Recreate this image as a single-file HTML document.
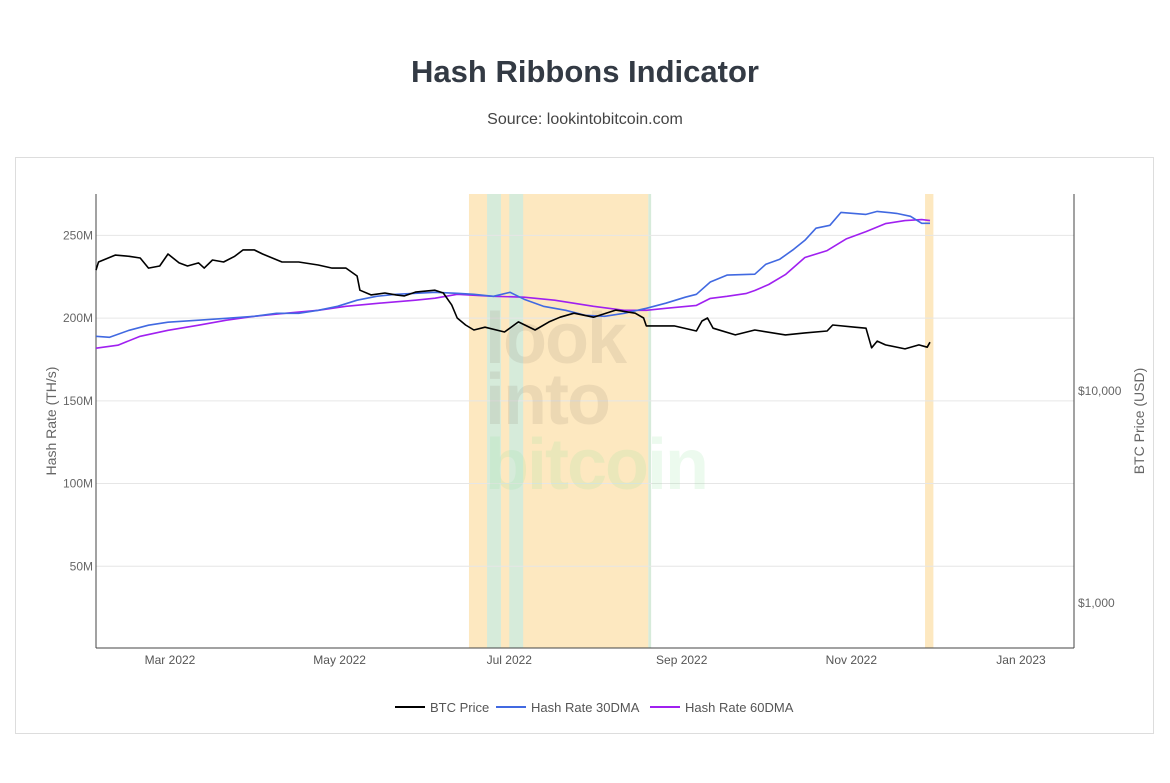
<!DOCTYPE html>
<html><head><meta charset="utf-8"><style>
body{margin:0;background:#fff;font-family:"Liberation Sans",sans-serif;}
#wrap{position:relative;width:1170px;height:783px;overflow:hidden;}
#title{position:absolute;top:54px;left:0;width:1170px;text-align:center;font-size:31px;font-weight:bold;color:#333a44;}
#sub{position:absolute;top:111px;left:0;width:1170px;text-align:center;font-size:16px;color:#444;}
#frame{position:absolute;left:15px;top:157px;width:1139px;height:577px;border:1px solid #ddd;box-sizing:border-box;}
svg{position:absolute;left:0;top:0;}
</style></head><body>
<div id="wrap">
<div id="title">Hash Ribbons Indicator</div>
<div id="sub">Source: lookintobitcoin.com</div>
<div id="frame"></div>
<svg id="chart" width="1170" height="783"></svg>
</div>
<script>
const priceDates=["2022-02-03","2022-02-04","2022-02-10","2022-02-15","2022-02-19","2022-02-22","2022-02-26","2022-03-01","2022-03-05","2022-03-08","2022-03-12","2022-03-14","2022-03-17","2022-03-21","2022-03-25","2022-03-28","2022-04-01","2022-04-04","2022-04-11","2022-04-17","2022-04-24","2022-04-29","2022-05-04","2022-05-08","2022-05-09","2022-05-13","2022-05-18","2022-05-22","2022-05-25","2022-05-29","2022-06-05","2022-06-08","2022-06-11","2022-06-13","2022-06-16","2022-06-19","2022-06-23","2022-06-30","2022-07-05","2022-07-11","2022-07-16","2022-07-20","2022-07-25","2022-08-01","2022-08-09","2022-08-16","2022-08-19","2022-08-20","2022-08-30","2022-09-07","2022-09-09","2022-09-11","2022-09-13","2022-09-21","2022-09-28","2022-10-09","2022-10-16","2022-10-24","2022-10-26","2022-11-03","2022-11-07","2022-11-09","2022-11-11","2022-11-14","2022-11-21","2022-11-26","2022-11-29","2022-11-30"];
const priceValues=[37200,40600,43800,43200,42400,38000,38900,44300,40200,38900,40200,38000,41500,40600,43200,46300,46300,44300,40600,40600,39300,38000,38000,34900,29900,28400,29000,28400,28100,29300,29900,29000,25500,22100,20500,19400,20000,19000,21200,19400,21200,22300,23300,22300,24100,23300,22100,20300,20300,19200,21400,22100,19800,18400,19400,18400,18800,19200,20500,20000,19800,16000,17200,16500,15800,16500,16100,17000];
const hr30Dates=["2022-02-03","2022-02-08","2022-02-15","2022-02-22","2022-03-01","2022-03-12","2022-03-22","2022-04-01","2022-04-09","2022-04-17","2022-04-24","2022-05-01","2022-05-08","2022-05-15","2022-05-22","2022-05-29","2022-06-05","2022-06-13","2022-06-19","2022-06-26","2022-07-02","2022-07-07","2022-07-14","2022-07-22","2022-07-29","2022-08-05","2022-08-12","2022-08-20","2022-08-27","2022-09-03","2022-09-07","2022-09-12","2022-09-18","2022-09-28","2022-10-02","2022-10-07","2022-10-12","2022-10-16","2022-10-20","2022-10-25","2022-10-29","2022-11-07","2022-11-11","2022-11-18","2022-11-23","2022-11-27","2022-11-30"];
const hr30Values=[189,188.4,192.6,195.7,197.5,198.7,199.9,201.1,202.9,202.9,204.7,207.1,210.8,213.2,214.4,215,215.6,215,214.4,213.2,215.6,211.4,207.1,204.7,201.7,201.1,202.9,205.9,209,212.6,214.4,221.8,226,226.5,232.6,235.6,241.6,247,254.3,256.1,263.9,262.7,264.5,263.3,261.5,257.3,257.3];
const hr60Dates=["2022-02-03","2022-02-11","2022-02-19","2022-03-01","2022-03-12","2022-03-22","2022-04-01","2022-04-12","2022-04-24","2022-05-04","2022-05-15","2022-05-29","2022-06-05","2022-06-13","2022-06-26","2022-07-07","2022-07-18","2022-08-01","2022-08-12","2022-08-20","2022-08-27","2022-09-07","2022-09-12","2022-09-18","2022-09-25","2022-09-28","2022-10-03","2022-10-09","2022-10-16","2022-10-24","2022-10-31","2022-11-07","2022-11-14","2022-11-21","2022-11-27","2022-11-30"];
const hr60Values=[181.8,183.6,189,192.6,195.7,198.7,201.1,202.9,204.7,207.1,208.9,210.8,212,214.4,213.2,212.6,210.8,207.1,204.7,204.7,205.9,207.7,211.9,213.2,214.9,216.7,220.3,226.3,236.6,240.8,248,252.3,257.1,258.9,259.5,258.9];
const bandStarts=["2022-06-16T12:00:00Z","2022-06-23T00:00:00Z","2022-07-01T00:00:00Z","2022-08-20T00:00:00Z","2022-11-27T12:00:00Z"];
const bandEnds=["2022-08-20T00:00:00Z","2022-06-28T00:00:00Z","2022-07-06T00:00:00Z","2022-08-21T00:00:00Z","2022-11-30T12:00:00Z"];
const bandTypes=["sell","buy","buy","buy","sell"];
const hashTicks=[50,100,150,200,250];
const hashTickLabels=["50M","100M","150M","200M","250M"];
const priceTicks=[1000,10000];
const priceTickLabels=["$1,000","$10,000"];
const xTicks=["2022-03-01","2022-05-01","2022-07-01","2022-09-01","2022-11-01","2023-01-01"];
const xTickLabels=["Mar 2022","May 2022","Jul 2022","Sep 2022","Nov 2022","Jan 2023"];

const L=96,R=1074,T=194,B=648;
const t0=Date.parse("2022-03-01"),pxPerDay=851/306;
function X(d){return 170+(Date.parse(d)-t0)/86400000*pxPerDay;}
function YH(v){return B+1-v/275*(B+1-T);}
const lgTop=Math.log10(85000),lgBot=Math.log10(614);
function YP(v){return T+(lgTop-Math.log10(v))/(lgTop-lgBot)*(B-T);}
const svg=document.getElementById('chart');
const NS="http://www.w3.org/2000/svg";
function mk(tag,attrs,parent){const e=document.createElementNS(NS,tag);for(const k in attrs)e.setAttribute(k,attrs[k]);(parent||svg).appendChild(e);return e;}

for(let i=0;i<bandStarts.length;i++){
  const x1=X(bandStarts[i]),x2=X(bandEnds[i]);
  const r=mk('rect',{x:x1,y:T,width:Math.max(2,x2-x1),height:B-T,fill:bandTypes[i]==='sell'?'#fde8c0':'#d6ebda'});
  
  
}
hashTicks.forEach((v,i)=>{
  const y=YH(v);
  const g=mk('line',{x1:L,x2:R,y1:y,y2:y,stroke:'#e6e6e6','stroke-width':1});
  
  
  const t=mk('text',{x:L-3,y:y+4,'text-anchor':'end','font-size':12,fill:'#666','font-family':'Liberation Sans, sans-serif'});
  t.textContent=hashTickLabels[i];
  
  
});
priceTicks.forEach((v,i)=>{
  const t=mk('text',{x:R+4,y:YP(v)+4,'font-size':12,fill:'#666','font-family':'Liberation Sans, sans-serif'});
  t.textContent=priceTickLabels[i];
  
  
});
xTicks.forEach((d,i)=>{
  const t=mk('text',{x:X(d),y:B+16,'text-anchor':'middle','font-size':12,fill:'#555','font-family':'Liberation Sans, sans-serif'});
  t.textContent=xTickLabels[i];
  
  
});
const wm=[["look",363,"rgba(120,110,90,0.13)"],["into",424,"rgba(120,110,90,0.13)"],["bitcoin",489,"rgba(150,230,160,0.18)"]];
wm.forEach(w=>{
  const t=mk('text',{x:485,y:w[1],'font-size':72,'font-weight':'bold',fill:w[2],'font-family':'Liberation Sans, sans-serif','letter-spacing':'-2'});
  t.textContent=w[0];
  
  
});
mk('line',{x1:L,x2:L,y1:T,y2:B,stroke:'#444','stroke-width':1});
mk('line',{x1:R,x2:R,y1:T,y2:B,stroke:'#444','stroke-width':1});
mk('line',{x1:L,x2:R,y1:B,y2:B,stroke:'#444','stroke-width':1});
function line(dates,vals,yf,color,name){
  const p=dates.map((d,i)=>Math.max(L,X(d)-2).toFixed(1)+','+yf(vals[i]).toFixed(1)).join(' ');
  const e=mk('polyline',{points:p,fill:'none',stroke:color,'stroke-width':1.6,'stroke-linejoin':'round'});
  
  
}
line(hr60Dates,hr60Values,YH,'#a020f0','hash-rate-60dma-line');
line(hr30Dates,hr30Values,YH,'#4169e1','hash-rate-30dma-line');
line(priceDates,priceValues,YP,'#000','btc-price-line');
const yl=mk('text',{x:0,y:0,transform:'translate(56,421) rotate(-90)','text-anchor':'middle','font-size':14,fill:'#666','font-family':'Liberation Sans, sans-serif'});
yl.textContent='Hash Rate (TH/s)';


const yr=mk('text',{x:0,y:0,transform:'translate(1144,421) rotate(-90)','text-anchor':'middle','font-size':14,fill:'#666','font-family':'Liberation Sans, sans-serif'});
yr.textContent='BTC Price (USD)';


const leg=[["BTC Price","#000",395],["Hash Rate 30DMA","#4169e1",496],["Hash Rate 60DMA","#a020f0",650]];
leg.forEach(l=>{
  mk('line',{x1:l[2],x2:l[2]+30,y1:707,y2:707,stroke:l[1],'stroke-width':2});
  const t=mk('text',{x:l[2]+35,y:712,'font-size':13,fill:'#555','font-family':'Liberation Sans, sans-serif'});
  t.textContent=l[0];
  
  
});
</script>
</body></html>
